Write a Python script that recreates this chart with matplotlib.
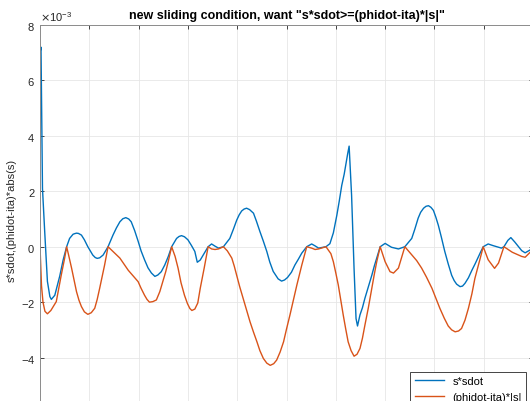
import numpy as np
import matplotlib
matplotlib.use("Agg")
from matplotlib import pyplot as plt
from matplotlib.ticker import ScalarFormatter, MultipleLocator

# s*sdot  (values in units of 1e-3)
t_s = [0.00, 0.02, 0.05, 0.095, 0.15, 0.20, 0.23, 0.30, 0.40, 0.47, 0.54, 0.60, 0.67, 0.70,
       0.74, 0.78, 0.84, 0.90, 0.97, 1.07, 1.12, 1.16, 1.21, 1.28, 1.38, 1.48, 1.55, 1.62,
       1.68, 1.74, 1.80, 1.85, 1.92, 1.99, 2.05, 2.12, 2.19, 2.26, 2.33, 2.39, 2.46, 2.53,
       2.60, 2.67, 2.77, 2.82, 2.87, 2.93, 3.00, 3.07, 3.14, 3.19, 3.25, 3.31, 3.41, 3.48,
       3.55, 3.62, 3.72, 3.85, 3.92, 3.99, 4.04, 4.09, 4.14, 4.19, 4.25, 4.33, 4.39, 4.46,
       4.53, 4.60, 4.66, 4.73, 4.83, 4.90, 4.96, 5.02, 5.10, 5.17, 5.24, 5.31, 5.41, 5.51,
       5.58, 5.65, 5.80, 5.88, 5.95, 6.02, 6.07, 6.12, 6.17, 6.21, 6.24, 6.27, 6.32, 6.37,
       6.41, 6.44, 6.49, 6.54, 6.59, 6.66, 6.73, 6.78, 6.83, 6.90, 7.00, 7.13, 7.27, 7.40,
       7.54, 7.60, 7.67, 7.72, 7.78, 7.83, 7.88, 7.93, 7.98, 8.03, 8.08, 8.14, 8.21, 8.28,
       8.35, 8.40, 8.45, 8.52, 8.57, 8.62, 8.69, 8.76, 8.83, 8.89, 8.94, 8.99, 9.09, 9.19,
       9.36, 9.41, 9.49, 9.55, 9.63, 9.77, 9.84, 9.94, 10.00]
s_sdot = [7.0, 7.2, 2.1, 0.55, -1.25, -1.8, -1.9, -1.75, -1.06, -0.47, 0.0, 0.3, 0.45, 0.47,
          0.49, 0.48, 0.42, 0.25, 0.0, -0.3, -0.39, -0.42, -0.40, -0.3, 0.0, 0.42, 0.68, 0.9,
          1.01, 1.05, 1.0, 0.9, 0.58, 0.2, -0.15, -0.47, -0.76, -0.95, -1.07, -1.02, -0.9, -0.66,
          -0.36, 0.0, 0.3, 0.37, 0.40, 0.36, 0.25, 0.05, -0.17, -0.56, -0.48, -0.3, 0.0, 0.1,
          0.02, -0.05, 0.0, 0.3, 0.62, 0.96, 1.15, 1.29, 1.36, 1.39, 1.34, 1.21, 0.92, 0.55,
          0.20, -0.17, -0.55, -0.89, -1.16, -1.24, -1.2, -1.11, -0.92, -0.66, -0.45, -0.23, 0.0, 0.1,
          0.03, -0.05, 0.0, 0.11, 0.5, 1.13, 1.65, 2.21, 2.62, 3.05, 3.35, 3.63, 1.85, -0.79,
          -2.59, -2.86, -2.46, -2.2, -1.86, -1.45, -1.03, -0.7, -0.41, 0.0, 0.12, -0.02, -0.08, 0.0,
          0.3, 0.62, 1.03, 1.24, 1.39, 1.46, 1.48, 1.42, 1.31, 1.06, 0.77, 0.35, -0.17, -0.62,
          -1.03, -1.22, -1.35, -1.44, -1.42, -1.32, -1.12, -0.85, -0.6, -0.37, -0.18, 0.0, 0.1, 0.04,
          -0.05, 0.0, 0.23, 0.33, 0.17, -0.14, -0.22, -0.12, -0.05]

# (phidot-ita)*|s|  (values in units of 1e-3)
t_p = [0.00, 0.03, 0.06, 0.10, 0.15, 0.22, 0.33, 0.43, 0.50, 0.54, 0.58, 0.64, 0.69, 0.74,
       0.79, 0.84, 0.90, 0.97, 1.04, 1.11, 1.16, 1.21, 1.31, 1.38, 1.48, 1.62, 1.79, 1.99,
       2.05, 2.12, 2.17, 2.22, 2.29, 2.36, 2.43, 2.49, 2.55, 2.60, 2.67, 2.74, 2.80, 2.86,
       2.93, 2.99, 3.04, 3.08, 3.14, 3.20, 3.25, 3.33, 3.41, 3.48, 3.55, 3.62, 3.72, 3.80,
       3.89, 3.94, 3.99, 4.05, 4.12, 4.19, 4.26, 4.33, 4.40, 4.46, 4.53, 4.60, 4.67, 4.74,
       4.80, 4.87, 4.94, 5.00, 5.07, 5.14, 5.21, 5.31, 5.41, 5.51, 5.58, 5.65, 5.80, 5.90,
       5.95, 6.00, 6.05, 6.10, 6.15, 6.20, 6.25, 6.31, 6.37, 6.43, 6.49, 6.54, 6.59, 6.66,
       6.73, 6.78, 6.83, 6.90, 7.00, 7.10, 7.17, 7.27, 7.34, 7.40, 7.54, 7.64, 7.74, 7.84,
       7.95, 8.03, 8.11, 8.20, 8.28, 8.35, 8.42, 8.49, 8.55, 8.62, 8.69, 8.76, 8.82, 8.88,
       8.93, 8.99, 9.09, 9.22, 9.30, 9.41, 9.58, 9.77, 9.84, 9.94, 10.00]
phi_s = [0.0, -1.4, -2.0, -2.33, -2.42, -2.3, -1.98, -1.03, -0.41, 0.0, -0.3, -0.77, -1.2, -1.62,
         -1.93, -2.16, -2.35, -2.44, -2.38, -2.22, -1.9, -1.5, -0.66, 0.0, -0.17, -0.41, -0.85, -1.26,
         -1.5, -1.75, -1.9, -2.0, -1.98, -1.92, -1.62, -1.26, -0.9, -0.54, 0.0, -0.35, -0.77, -1.3,
         -1.75, -2.05, -2.23, -2.3, -2.25, -2.03, -1.5, -0.77, 0.0, -0.08, -0.1, -0.08, 0.0, -0.15,
         -0.41, -0.7, -1.03, -1.44, -1.86, -2.29, -2.71, -3.08, -3.43, -3.75, -4.03, -4.2, -4.28, -4.22,
         -4.09, -3.8, -3.43, -2.97, -2.46, -1.92, -1.38, -0.66, 0.0, -0.05, -0.1, -0.08, 0.0, -0.25,
         -0.54, -0.95, -1.38, -1.92, -2.46, -2.96, -3.43, -3.75, -3.95, -3.88, -3.67, -3.3, -2.83, -2.2,
         -1.5, -1.0, -0.54, 0.0, -0.54, -0.9, -0.95, -0.77, -0.36, 0.0, -0.29, -0.5, -0.77, -1.1,
         -1.5, -1.86, -2.22, -2.58, -2.86, -3.0, -3.07, -3.04, -2.95, -2.65, -2.22, -1.7, -1.15, -0.75,
         -0.41, 0.0, -0.47, -0.78, -0.59, 0.0, -0.2, -0.35, -0.38, -0.2, -0.1]

y_ticks = [-4, -2, 0, 2, 4, 6, 8]

plt.rcParams['font.family'] = ['Liberation Sans', 'DejaVu Sans']

fig = plt.figure(figsize=(5.3, 4.02), dpi=100)
# axes run past the bottom and right edges of the canvas
ax = fig.add_axes([0.0755, -0.0299, 0.9302, 0.9652])

ax.plot(t_s, np.array(s_sdot) * 1e-3, color='#0072BD', lw=1.0, label='s*sdot')
ax.plot(t_p, np.array(phi_s) * 1e-3, color='#D95319', lw=1.0, label='(phidot-ita)*|s|')

ax.set_xlim(0, 10)
ax.set_ylim(-6e-3, 8e-3)
ax.xaxis.set_major_locator(MultipleLocator(1))
ax.set_yticks(np.array(y_ticks) * 1e-3)

fmt = ScalarFormatter(useMathText=True)
fmt.set_powerlimits((-3, -3))
ax.yaxis.set_major_formatter(fmt)
ax.yaxis.get_offset_text().set_fontsize(8)
ax.yaxis.get_offset_text().set_color('#404040')

ax.grid(True, color='#e6e6e6', lw=0.6)
ax.tick_params(direction='in', length=3, labelsize=8, colors='#262626',
               top=True, right=True, width=0.6)
ax.tick_params(axis='x', labelbottom=False)
for sp in ax.spines.values():
    sp.set_color('#8c8c8c')
    sp.set_linewidth(0.7)

ax.set_title('new sliding condition, want "s*sdot>=(phidot-ita)*|s|"',
             fontsize=9, fontweight='bold', pad=5)
ax.set_ylabel('s*sdot,(phidot-ita)*abs(s)', fontsize=8, color='#262626', labelpad=3)

leg = ax.legend(loc='lower right', fontsize=8, fancybox=False, framealpha=1,
                edgecolor='#262626', borderaxespad=0.6, handlelength=2.6)
leg.get_frame().set_linewidth(0.6)

fig.savefig('out.png', dpi=100)
